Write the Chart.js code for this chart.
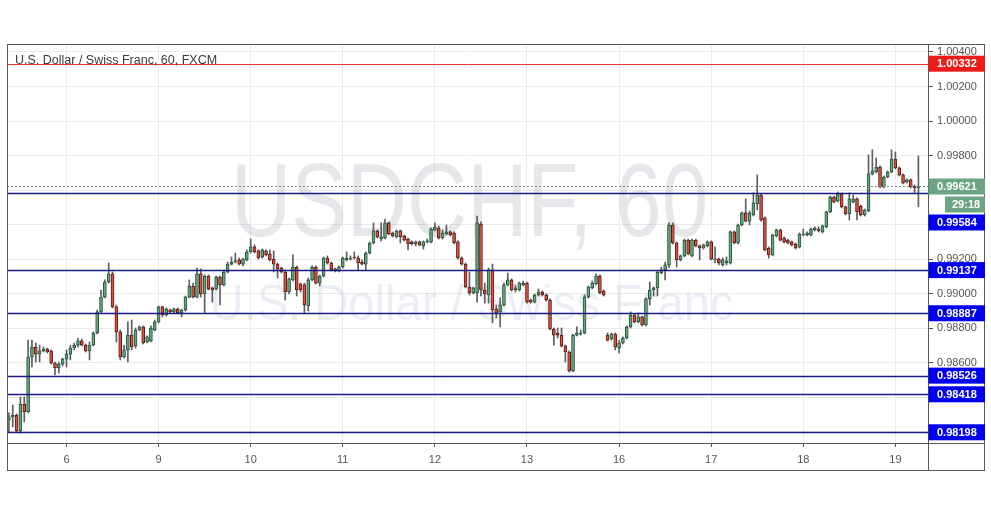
<!DOCTYPE html>
<html lang="en">
<head>
<meta charset="UTF-8">
<title>USDCHF, 60</title>
<script src="https://cdn.jsdelivr.net/npm/chart.js"></script>
<style>
  body { margin: 0; background: #fff; }
  #wrap { width: 991px; height: 507px; position: relative; }
</style>
</head>
<body>
<div id="wrap"><canvas id="chart"></canvas></div>
<script>
// hourly candles
const opens = [
  0.98269, 0.98287, 0.98298, 0.98206, 0.98362, 0.98316, 0.98634, 0.98692, 0.98651, 0.98669, 0.98680, 0.98669,
  0.98599, 0.98570, 0.98593, 0.98622, 0.98651, 0.98686, 0.98703, 0.98727, 0.98703, 0.98669, 0.98703, 0.98773,
  0.98895, 0.98981, 0.99068, 0.99115, 0.98924, 0.98779, 0.98634, 0.98675, 0.98761, 0.98698, 0.98790, 0.98808,
  0.98721, 0.98727, 0.98790, 0.98837, 0.98924, 0.98877, 0.98906, 0.98895, 0.98912, 0.98889, 0.98906, 0.98981,
  0.99045, 0.98981, 0.99115, 0.98999, 0.99103, 0.99034, 0.99028, 0.99097, 0.99051, 0.99126, 0.99172, 0.99184,
  0.99196, 0.99172, 0.99196, 0.99242, 0.99271, 0.99248, 0.99213, 0.99248, 0.99230, 0.99201, 0.99172, 0.99149,
  0.99126, 0.99010, 0.99080, 0.99155, 0.99057, 0.99051, 0.98929, 0.99080, 0.99155, 0.99062, 0.99103, 0.99207,
  0.99178, 0.99144, 0.99132, 0.99155, 0.99196, 0.99201, 0.99213, 0.99207, 0.99184, 0.99172, 0.99236, 0.99294,
  0.99364, 0.99317, 0.99323, 0.99410, 0.99352, 0.99329, 0.99364, 0.99335, 0.99317, 0.99300, 0.99288, 0.99300,
  0.99277, 0.99300, 0.99300, 0.99369, 0.99381, 0.99323, 0.99346, 0.99358, 0.99352, 0.99300, 0.99207, 0.99172,
  0.99039, 0.99005, 0.99005, 0.99404, 0.99022, 0.98993, 0.99138, 0.98912, 0.98895, 0.98935, 0.99051, 0.99080,
  0.99022, 0.99022, 0.99051, 0.99062, 0.98964, 0.98952, 0.98993, 0.99010, 0.98993, 0.98964, 0.98796, 0.98773,
  0.98761, 0.98698, 0.98663, 0.98553, 0.98761, 0.98767, 0.98773, 0.98981, 0.99034, 0.99057, 0.99103, 0.99016,
  0.98761, 0.98738, 0.98767, 0.98686, 0.98715, 0.98744, 0.98808, 0.98877, 0.98837, 0.98866, 0.98819, 0.98970,
  0.99022, 0.99034, 0.99120, 0.99138, 0.99167, 0.99398, 0.99294, 0.99196, 0.99219, 0.99311, 0.99219, 0.99311,
  0.99277, 0.99265, 0.99277, 0.99300, 0.99196, 0.99201, 0.99167, 0.99178, 0.99178, 0.99358, 0.99294, 0.99398,
  0.99468, 0.99421, 0.99456, 0.99520, 0.99572, 0.99439, 0.99265, 0.99225, 0.99335, 0.99369, 0.99323, 0.99311,
  0.99300, 0.99288, 0.99271, 0.99340, 0.99340, 0.99340, 0.99369, 0.99375, 0.99358, 0.99387, 0.99474, 0.99560,
  0.99537, 0.99578, 0.99503, 0.99462, 0.99531, 0.99549, 0.99508, 0.99456, 0.99479, 0.99694, 0.99705, 0.99734,
  0.99618, 0.99676, 0.99705, 0.99780, 0.99729, 0.99688, 0.99647, 0.99659, 0.99624, 0.99613
];
const highs = [
  0.98310, 0.98356, 0.98304, 0.98402, 0.98402, 0.98732, 0.98732, 0.98715, 0.98703, 0.98692, 0.98686, 0.98675,
  0.98605, 0.98605, 0.98628, 0.98675, 0.98703, 0.98715, 0.98744, 0.98738, 0.98709, 0.98721, 0.98779, 0.98906,
  0.99022, 0.99080, 0.99178, 0.99126, 0.98935, 0.98790, 0.98703, 0.98837, 0.98848, 0.98802, 0.98814, 0.98814,
  0.98756, 0.98814, 0.98848, 0.98929, 0.98929, 0.98918, 0.98912, 0.98918, 0.98918, 0.98912, 0.98987, 0.99080,
  0.99062, 0.99149, 0.99144, 0.99109, 0.99109, 0.99039, 0.99103, 0.99103, 0.99138, 0.99184, 0.99213, 0.99236,
  0.99207, 0.99207, 0.99254, 0.99317, 0.99283, 0.99254, 0.99259, 0.99254, 0.99254, 0.99248, 0.99178, 0.99155,
  0.99138, 0.99091, 0.99225, 0.99161, 0.99062, 0.99062, 0.99091, 0.99161, 0.99161, 0.99109, 0.99213, 0.99219,
  0.99184, 0.99149, 0.99161, 0.99213, 0.99242, 0.99219, 0.99242, 0.99219, 0.99196, 0.99242, 0.99300, 0.99410,
  0.99369, 0.99410, 0.99433, 0.99416, 0.99358, 0.99369, 0.99369, 0.99340, 0.99323, 0.99306, 0.99306, 0.99306,
  0.99306, 0.99317, 0.99381, 0.99410, 0.99393, 0.99369, 0.99398, 0.99364, 0.99358, 0.99306, 0.99213, 0.99178,
  0.99126, 0.99039, 0.99450, 0.99416, 0.99062, 0.99149, 0.99172, 0.98935, 0.98976, 0.99062, 0.99120, 0.99086,
  0.99051, 0.99068, 0.99074, 0.99068, 0.98970, 0.98999, 0.99028, 0.99016, 0.98999, 0.98970, 0.98802, 0.98802,
  0.98802, 0.98703, 0.98669, 0.98767, 0.98808, 0.98790, 0.98993, 0.99045, 0.99074, 0.99115, 0.99109, 0.99022,
  0.98773, 0.98773, 0.98773, 0.98732, 0.98750, 0.98814, 0.98895, 0.98883, 0.98889, 0.98871, 0.98976, 0.99068,
  0.99039, 0.99132, 0.99155, 0.99184, 0.99410, 0.99410, 0.99300, 0.99225, 0.99317, 0.99317, 0.99317, 0.99317,
  0.99283, 0.99288, 0.99306, 0.99306, 0.99271, 0.99207, 0.99207, 0.99213, 0.99364, 0.99364, 0.99404, 0.99474,
  0.99549, 0.99479, 0.99584, 0.99688, 0.99578, 0.99445, 0.99271, 0.99346, 0.99375, 0.99375, 0.99329, 0.99317,
  0.99306, 0.99294, 0.99352, 0.99375, 0.99358, 0.99381, 0.99387, 0.99387, 0.99398, 0.99479, 0.99566, 0.99566,
  0.99589, 0.99584, 0.99508, 0.99584, 0.99572, 0.99555, 0.99514, 0.99491, 0.99804, 0.99833, 0.99786, 0.99740,
  0.99682, 0.99711, 0.99833, 0.99821, 0.99734, 0.99694, 0.99665, 0.99665, 0.99630, 0.99798
];
const lows = [
  0.98200, 0.98229, 0.98200, 0.98194, 0.98258, 0.98310, 0.98576, 0.98605, 0.98605, 0.98663, 0.98657, 0.98593,
  0.98530, 0.98541, 0.98582, 0.98576, 0.98617, 0.98675, 0.98692, 0.98698, 0.98663, 0.98617, 0.98698, 0.98767,
  0.98889, 0.98976, 0.99062, 0.98918, 0.98721, 0.98617, 0.98628, 0.98605, 0.98675, 0.98686, 0.98785, 0.98709,
  0.98715, 0.98721, 0.98785, 0.98831, 0.98866, 0.98871, 0.98889, 0.98889, 0.98883, 0.98866, 0.98900, 0.98976,
  0.98976, 0.98976, 0.98981, 0.98889, 0.99022, 0.98952, 0.99022, 0.98935, 0.99045, 0.99120, 0.99167, 0.99178,
  0.99167, 0.99161, 0.99190, 0.99236, 0.99236, 0.99201, 0.99207, 0.99219, 0.99190, 0.99126, 0.99091, 0.99120,
  0.98964, 0.98999, 0.99074, 0.98987, 0.99010, 0.98889, 0.98900, 0.99074, 0.99057, 0.99045, 0.99097, 0.99172,
  0.99132, 0.99126, 0.99126, 0.99149, 0.99190, 0.99196, 0.99201, 0.99138, 0.99167, 0.99138, 0.99230, 0.99288,
  0.99323, 0.99306, 0.99317, 0.99340, 0.99329, 0.99323, 0.99294, 0.99306, 0.99254, 0.99283, 0.99277, 0.99277,
  0.99259, 0.99294, 0.99294, 0.99364, 0.99317, 0.99317, 0.99340, 0.99335, 0.99288, 0.99201, 0.99167, 0.99034,
  0.98993, 0.98999, 0.98952, 0.98987, 0.98946, 0.98946, 0.98831, 0.98860, 0.98808, 0.98929, 0.99045, 0.99016,
  0.99010, 0.99016, 0.99045, 0.98946, 0.98946, 0.98946, 0.98987, 0.98987, 0.98958, 0.98790, 0.98703, 0.98744,
  0.98692, 0.98605, 0.98547, 0.98547, 0.98756, 0.98761, 0.98767, 0.98976, 0.99028, 0.99051, 0.98999, 0.98987,
  0.98727, 0.98732, 0.98675, 0.98657, 0.98709, 0.98738, 0.98802, 0.98831, 0.98831, 0.98814, 0.98814, 0.98935,
  0.98987, 0.98987, 0.99115, 0.99080, 0.99149, 0.99288, 0.99155, 0.99190, 0.99213, 0.99225, 0.99213, 0.99271,
  0.99196, 0.99259, 0.99271, 0.99196, 0.99178, 0.99167, 0.99161, 0.99167, 0.99172, 0.99288, 0.99288, 0.99393,
  0.99416, 0.99398, 0.99450, 0.99485, 0.99421, 0.99248, 0.99207, 0.99219, 0.99329, 0.99306, 0.99294, 0.99288,
  0.99277, 0.99259, 0.99265, 0.99335, 0.99335, 0.99335, 0.99364, 0.99358, 0.99352, 0.99381, 0.99468, 0.99526,
  0.99531, 0.99497, 0.99456, 0.99427, 0.99526, 0.99427, 0.99450, 0.99450, 0.99474, 0.99688, 0.99700, 0.99613,
  0.99613, 0.99671, 0.99700, 0.99723, 0.99682, 0.99636, 0.99642, 0.99613, 0.99584, 0.99503
];
const closes = [
  0.98287, 0.98298, 0.98206, 0.98362, 0.98316, 0.98634, 0.98692, 0.98651, 0.98669, 0.98680, 0.98663, 0.98599,
  0.98570, 0.98593, 0.98622, 0.98651, 0.98686, 0.98703, 0.98727, 0.98703, 0.98669, 0.98703, 0.98773, 0.98895,
  0.98981, 0.99068, 0.99115, 0.98924, 0.98779, 0.98634, 0.98675, 0.98761, 0.98692, 0.98790, 0.98808, 0.98715,
  0.98750, 0.98802, 0.98837, 0.98924, 0.98877, 0.98912, 0.98895, 0.98912, 0.98889, 0.98906, 0.98981, 0.99045,
  0.98981, 0.99115, 0.98999, 0.99103, 0.99028, 0.99022, 0.99097, 0.99051, 0.99126, 0.99172, 0.99184, 0.99190,
  0.99172, 0.99201, 0.99242, 0.99271, 0.99242, 0.99207, 0.99254, 0.99225, 0.99196, 0.99172, 0.99144, 0.99126,
  0.99010, 0.99086, 0.99155, 0.99022, 0.99022, 0.98935, 0.99080, 0.99155, 0.99062, 0.99103, 0.99207, 0.99178,
  0.99138, 0.99132, 0.99155, 0.99207, 0.99207, 0.99207, 0.99207, 0.99178, 0.99172, 0.99236, 0.99294, 0.99364,
  0.99329, 0.99329, 0.99410, 0.99346, 0.99335, 0.99364, 0.99329, 0.99311, 0.99288, 0.99288, 0.99300, 0.99283,
  0.99300, 0.99306, 0.99375, 0.99387, 0.99323, 0.99352, 0.99358, 0.99340, 0.99294, 0.99207, 0.99172, 0.99039,
  0.99005, 0.99034, 0.99410, 0.99022, 0.98999, 0.99138, 0.98906, 0.98889, 0.98935, 0.99051, 0.99080, 0.99022,
  0.99034, 0.99062, 0.99062, 0.98952, 0.98952, 0.98993, 0.99010, 0.98993, 0.98964, 0.98796, 0.98761, 0.98761,
  0.98698, 0.98663, 0.98553, 0.98761, 0.98773, 0.98773, 0.98981, 0.99039, 0.99062, 0.99103, 0.99005, 0.98993,
  0.98732, 0.98767, 0.98692, 0.98715, 0.98744, 0.98808, 0.98877, 0.98837, 0.98866, 0.98819, 0.98970, 0.99022,
  0.99034, 0.99126, 0.99138, 0.99167, 0.99398, 0.99294, 0.99196, 0.99219, 0.99311, 0.99230, 0.99311, 0.99277,
  0.99265, 0.99283, 0.99300, 0.99201, 0.99201, 0.99178, 0.99196, 0.99190, 0.99358, 0.99294, 0.99398, 0.99468,
  0.99421, 0.99468, 0.99526, 0.99572, 0.99427, 0.99254, 0.99225, 0.99340, 0.99369, 0.99311, 0.99300, 0.99294,
  0.99283, 0.99265, 0.99346, 0.99346, 0.99352, 0.99375, 0.99381, 0.99364, 0.99393, 0.99474, 0.99560, 0.99531,
  0.99578, 0.99503, 0.99462, 0.99549, 0.99549, 0.99474, 0.99456, 0.99485, 0.99694, 0.99711, 0.99734, 0.99618,
  0.99676, 0.99705, 0.99780, 0.99729, 0.99688, 0.99642, 0.99659, 0.99618, 0.99613, 0.99621
];

// x axis: candle index of each day's first hour, and its label
const dayIdx = [15, 39, 63, 87, 111, 135, 159, 183, 207, 231];
const dayNames = ['6', '9', '10', '11', '12', '13', '16', '17', '18', '19'];

// horizontal levels drawn on the chart
const supportLevels = [0.99584, 0.99137, 0.98887, 0.98526, 0.98418, 0.98198];
const redLevel = 1.00332;
const lastPrice = 0.99621;
const countdown = '29:18';

const slots = 240; // room for two empty bars on the right
const labels = [];
for (let i = 0; i < slots; i++) labels.push('');
dayIdx.forEach((d, k) => { labels[d] = dayNames[k]; });

const upFill = '#6ba583', downFill = '#d75442';
const upLine = '#225437', downLine = '#5b1a13';
const isUp = opens.map((o, i) => closes[i] >= o);

const FONT = "'Liberation Sans', Arial, sans-serif";

const overlay = {
  id: 'overlay',
  beforeDatasetsDraw(chart) {
    const { ctx, chartArea: a } = chart;
    ctx.save();
    ctx.beginPath();
    ctx.rect(a.left, a.top, a.right - a.left, a.bottom - a.top);
    ctx.clip();
    const cx = (a.left + a.right) / 2;
    // big watermark, narrow like the original
    ctx.textAlign = 'center';
    ctx.textBaseline = 'alphabetic';
    ctx.font = '103px ' + FONT;
    let w = ctx.measureText('USDCHF, 60').width;
    ctx.save();
    ctx.translate(cx + 2, 236);
    ctx.scale(477 / w, 1);
    ctx.fillStyle = 'rgba(95, 95, 120, 0.15)';
    ctx.fillText('USDCHF, 60', 0, 0);
    ctx.restore();
    ctx.font = '50px ' + FONT;
    w = ctx.measureText('U.S. Dollar / Swiss Franc').width;
    ctx.save();
    ctx.translate(cx + 4, 320);
    ctx.scale(524 / w, 1);
    ctx.fillStyle = 'rgba(110, 120, 175, 0.13)';
    ctx.fillText('U.S. Dollar / Swiss Franc', 0, 0);
    ctx.restore();
    ctx.restore();
  },
  afterDatasetsDraw(chart) {
    const { ctx, chartArea: a, scales: { y } } = chart;
    ctx.save();
    // last price dotted line
    let py = Math.round(y.getPixelForValue(lastPrice)) + 0.5;
    ctx.strokeStyle = '#8a8a8a';
    ctx.lineWidth = 1;
    ctx.setLineDash([2, 2]);
    ctx.beginPath(); ctx.moveTo(a.left, py); ctx.lineTo(a.right, py); ctx.stroke();
    ctx.setLineDash([]);
    // support / resistance lines
    ctx.strokeStyle = '#1b1b86';
    ctx.lineWidth = 1.4;
    supportLevels.forEach(v => {
      const ly = Math.round(y.getPixelForValue(v)) + 0.5;
      ctx.beginPath(); ctx.moveTo(a.left, ly); ctx.lineTo(a.right, ly); ctx.stroke();
    });
    ctx.strokeStyle = '#d93636';
    ctx.lineWidth = 1;
    const ry = Math.round(y.getPixelForValue(redLevel)) + 0.5;
    ctx.beginPath(); ctx.moveTo(a.left, ry); ctx.lineTo(a.right, ry); ctx.stroke();
    ctx.restore();
  },
  afterDraw(chart) {
    const { ctx, chartArea: a, scales: { y } } = chart;
    ctx.save();
    // frame
    ctx.strokeStyle = '#5a5a5a';
    ctx.lineWidth = 1;
    ctx.strokeRect(a.left + 0.5, a.top + 0.5, 985 - a.left - 1, 470 - a.top);
    ctx.beginPath();
    ctx.moveTo(a.right + 0.5, a.top); ctx.lineTo(a.right + 0.5, 470.5);
    ctx.moveTo(a.left, a.bottom + 0.5); ctx.lineTo(985, a.bottom + 0.5);
    ctx.stroke();

    // price boxes on the axis, pushed down when they overlap
    const bh = 16, bx = a.right + 0.5, bw = 985 - a.right - 0.5;
    const items = [{ v: redLevel, fill: '#ee1b1b' }, { v: lastPrice, fill: '#6ba583', clock: true }]
      .concat(supportLevels.map(v => ({ v: v, fill: '#0000ee' })));
    items.forEach(it => { it.y = y.getPixelForValue(it.v); });
    items.sort((p, q) => p.y - q.y);
    let floor = -1e9;
    ctx.font = 'bold 11px ' + FONT;
    ctx.textBaseline = 'middle';
    ctx.textAlign = 'left';
    items.forEach(it => {
      const top = Math.max(it.y - bh / 2, floor);
      ctx.fillStyle = it.fill;
      ctx.fillRect(bx, top, bw, bh);
      ctx.fillStyle = '#fff';
      ctx.fillText(it.v.toFixed(5), bx + 8.5, top + bh / 2 + 0.5);
      floor = top + bh + 2;
      if (it.clock) {
        const ct = top + bh + 2;
        ctx.fillStyle = '#6ba583';
        ctx.fillRect(945, ct, 985 - 945, bh);
        ctx.fillStyle = '#fff';
        ctx.fillText(countdown, 952, ct + bh / 2 + 0.5);
        floor = ct + bh + 2;
      }
    });

    // title
    ctx.font = '12.5px ' + FONT;
    ctx.fillStyle = '#3c3c3c';
    ctx.textBaseline = 'alphabetic';
    ctx.fillText('U.S. Dollar / Swiss Franc, 60, FXCM', 15, 64);
    ctx.restore();
  }
};

new Chart(document.getElementById('chart'), {
  type: 'bar',
  data: {
    labels: labels,
    datasets: [
      {
        label: 'wick',
        data: lows.map((l, i) => [l, highs[i]]),
        backgroundColor: '#5e5e62',
        barThickness: 1,
        grouped: false,
        order: 2
      },
      {
        label: 'body',
        data: opens.map((o, i) => [o, closes[i]]),
        backgroundColor: isUp.map(u => u ? upFill : downFill),
        borderColor: isUp.map(u => u ? upLine : downLine),
        borderWidth: 1,
        borderSkipped: false,
        barThickness: 3,
        minBarLength: 1,
        grouped: false,
        order: 1
      }
    ]
  },
  options: {
    responsive: true,
    maintainAspectRatio: false,
    animation: false,
    layout: { padding: { left: 7, top: 44, right: 6, bottom: 37 } },
    plugins: { legend: { display: false }, tooltip: { enabled: false } },
    scales: {
      x: {
        type: 'category',
        offset: true,
        afterFit: s => { s.height = 27; },
        border: { display: false },
        grid: { offset: false, color: '#ebebeb', tickColor: '#555', tickLength: 4 },
        ticks: {
          autoSkip: false, maxRotation: 0, padding: 6,
          color: '#555', font: { family: FONT, size: 11 },
          callback: v => labels[v] || null
        }
      },
      y: {
        position: 'right',
        min: 0.98136,
        max: 1.00446,
        afterFit: s => { s.width = 57; },
        border: { display: false },
        grid: { color: '#ebebeb', tickColor: '#555', tickLength: 5 },
        ticks: {
          stepSize: 0.002, includeBounds: false, padding: 4,
          color: '#555', font: { family: FONT, size: 11 },
          callback: v => v.toFixed(5)
        }
      }
    }
  },
  plugins: [overlay]
});
</script>
</body>
</html>
